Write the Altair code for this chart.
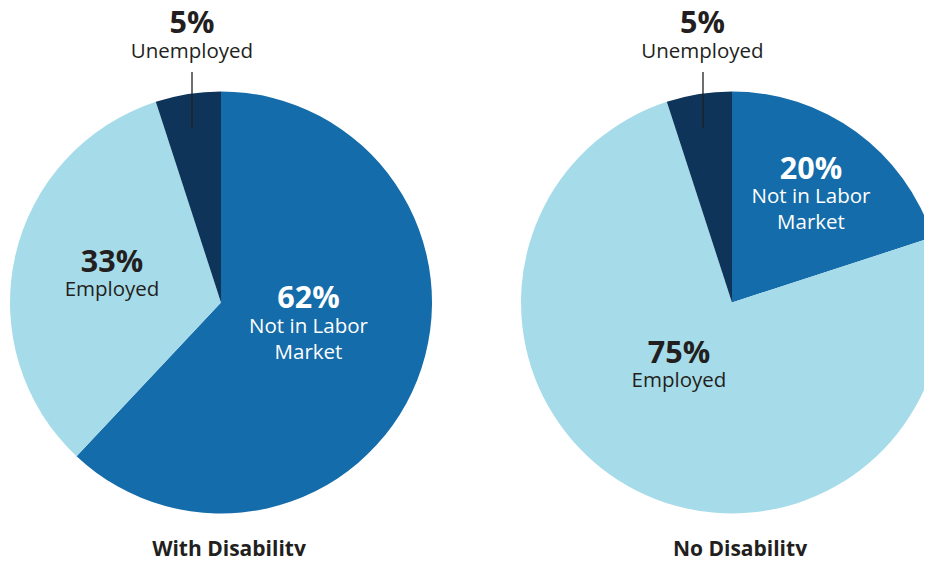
import altair as alt
import pandas as pd

# ---- data ----
groups = ["With Disability"] * 3 + ["No Disability"] * 3
categories = ["Not in Labor Market", "Employed", "Unemployed"] * 2
values = [62, 33, 5, 20, 75, 5]
slice_order = [1, 2, 3, 1, 2, 3]
pct_labels = ["62%", "33%", "5%", "20%", "75%", "5%"]
cat_labels = ["Not in Labor\nMarket", "Employed", "Unemployed"] * 2

df = pd.DataFrame({
    "group": groups,
    "category": categories,
    "value": values,
    "order": slice_order,
    "pct": pct_labels,
    "cat": cat_labels,
})
titles_df = pd.DataFrame({"group": ["With Disability", "No Disability"]})

# ---- style / layout ----
FONT = "Open Sans"
DARK = "#231F20"
CAT_DOMAIN = ["Not in Labor Market", "Employed", "Unemployed"]
CAT_COLORS = ["#146CAA", "#A6DCE9", "#0E345A"]
TEXT_COLORS = {"Not in Labor Market": "white", "Employed": DARK, "Unemployed": DARK}
W, H = 916, 548
CY = 294.5
RADIUS = 211
PIE_CX = {"With Disability": 213, "No Disability": 724}
# label placement: (radius along slice mid-angle, dx, dy)
LABEL_POS = {
    ("With Disability", "Not in Labor Market"): (90, 3.8, -27.6),
    ("With Disability", "Employed"): (113, 1.3, -5.9),
    ("With Disability", "Unemployed"): (272, 13.5, -0.8),
    ("No Disability", "Not in Labor Market"): (147, -7.4, -4.6),
    ("No Disability", "Employed"): (80, -16.7, -10.8),
    ("No Disability", "Unemployed"): (272, 13.0, -0.8),
}
CAT_GAP = 24.5

theta_scale = alt.Scale(domain=[0, 100])
color_scale = alt.Scale(domain=CAT_DOMAIN, range=CAT_COLORS)

layers = []
for g, cx in PIE_CX.items():
    base = alt.Chart(df).transform_filter(alt.datum.group == g)
    arc = base.mark_arc(outerRadius=RADIUS, clip=True).encode(
        theta=alt.Theta("value:Q", stack=True, scale=theta_scale),
        color=alt.Color("category:N", scale=color_scale, legend=None),
        order=alt.Order("order:Q"),
        x=alt.value(cx),
        y=alt.value(CY),
    )
    layers.append(arc)

    mids = base.transform_window(
        cum="sum(value)", sort=[alt.SortField("order")], frame=[None, 0]
    ).transform_calculate(mid="datum.cum - datum.value / 2")

    for c in CAT_DOMAIN:
        r, dx, dy = LABEL_POS[(g, c)]
        sel = mids.transform_filter(alt.datum.category == c)
        enc = dict(
            theta=alt.Theta("mid:Q", stack=False, scale=theta_scale),
            x=alt.value(cx),
            y=alt.value(CY),
        )
        pct = sel.mark_text(
            radius=r, dx=dx, dy=dy, font=FONT, fontSize=30.5, fontWeight="bold",
            align="center", baseline="alphabetic", color=TEXT_COLORS[c],
        ).encode(text="pct:N", **enc)
        cat = sel.mark_text(
            radius=r, dx=dx, dy=dy + CAT_GAP, font=FONT, fontSize=20.5,
            align="center", baseline="alphabetic", lineBreak="\n", lineHeight=26,
            color=TEXT_COLORS[c],
        ).encode(text="cat:N", **enc)
        layers += [pct, cat]

    leader = base.transform_filter(alt.datum.category == "Unemployed").mark_rule(
        color=DARK, strokeWidth=1.3
    ).encode(
        x=alt.value(cx - 29),
        y=alt.value(64),
        y2=alt.value(120),
    )
    layers.append(leader)

    title = alt.Chart(titles_df).transform_filter(alt.datum.group == g).mark_text(
        font=FONT, fontSize=21, fontWeight="bold", color=DARK,
        align="center", baseline="alphabetic",
    ).encode(text="group:N", x=alt.value(cx + 8), y=alt.value(548))
    layers.append(title)

chart = alt.layer(*layers).properties(
    width=W, height=H, padding=0, autosize=alt.AutoSizeParams(type="none")
).configure_view(stroke=None)

chart.save("out.html", embed_options={"renderer": "svg", "actions": False})
